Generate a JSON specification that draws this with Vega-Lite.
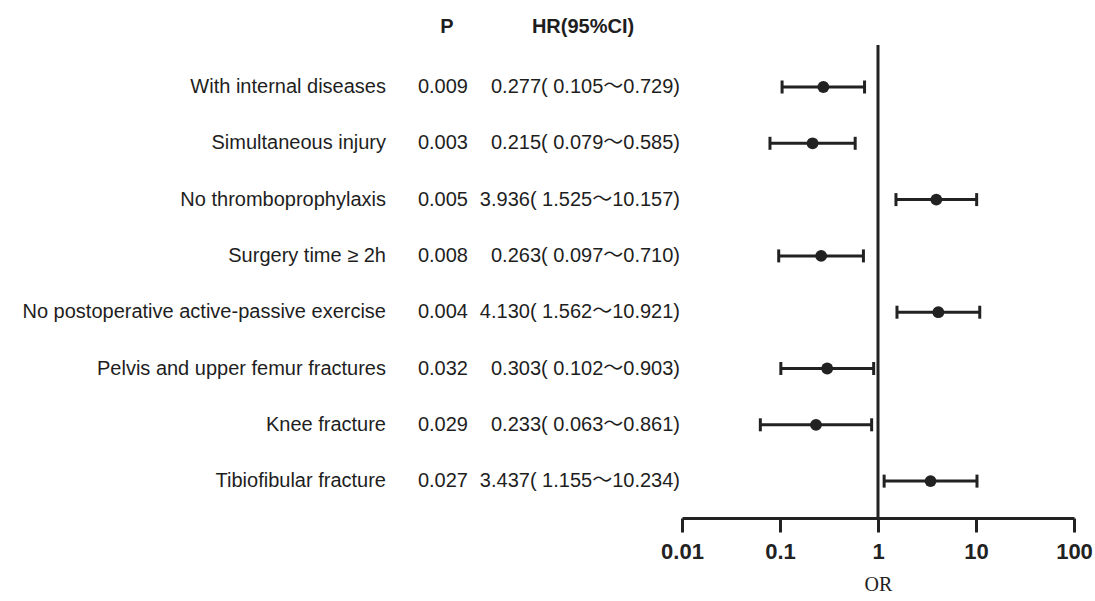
{
  "$schema": "https://vega.github.io/schema/vega-lite/v6.json",
  "padding": 0,
  "autosize": {"type": "pad"},
  "bounds": "flush",
  "spacing": 0,
  "background": "white",
  "config": {"view": {"stroke": null}, "font": "Liberation Sans"},
  "datasets": {
    "rows": [
      {"row": 1, "label": "With internal diseases", "p": "0.009", "hr": "0.277( 0.105～0.729)", "or": 0.277, "lo": 0.105, "hi": 0.729},
      {"row": 2, "label": "Simultaneous injury", "p": "0.003", "hr": "0.215( 0.079～0.585)", "or": 0.215, "lo": 0.079, "hi": 0.585},
      {"row": 3, "label": "No thromboprophylaxis", "p": "0.005", "hr": "3.936( 1.525～10.157)", "or": 3.936, "lo": 1.525, "hi": 10.157},
      {"row": 4, "label": "Surgery time ≥ 2h", "p": "0.008", "hr": "0.263( 0.097～0.710)", "or": 0.263, "lo": 0.097, "hi": 0.710},
      {"row": 5, "label": "No postoperative active-passive exercise", "p": "0.004", "hr": "4.130( 1.562～10.921)", "or": 4.130, "lo": 1.562, "hi": 10.921},
      {"row": 6, "label": "Pelvis and upper femur fractures", "p": "0.032", "hr": "0.303( 0.102～0.903)", "or": 0.303, "lo": 0.102, "hi": 0.903},
      {"row": 7, "label": "Knee fracture", "p": "0.029", "hr": "0.233( 0.063～0.861)", "or": 0.233, "lo": 0.063, "hi": 0.861},
      {"row": 8, "label": "Tibiofibular fracture", "p": "0.027", "hr": "3.437( 1.155～10.234)", "or": 3.437, "lo": 1.155, "hi": 10.234}
    ]
  },
  "hconcat": [
    {
      "width": 682,
      "height": 518,
      "layer": [
        {
          "data": {"name": "rows"},
          "mark": {"type": "text", "align": "right", "baseline": "middle", "fontSize": 20, "color": "#1e1e1e", "font": "Liberation Sans, Noto Sans CJK SC"},
          "encoding": {
            "x": {"datum": 386, "type": "quantitative", "scale": {"domain": [0, 682], "nice": false, "zero": false}, "axis": null},
            "y": {"field": "row", "type": "quantitative", "scale": {"domain": [-0.545, 8.655], "reverse": true, "nice": false, "zero": false}, "axis": null},
            "text": {"field": "label"}
          }
        },
        {
          "data": {"name": "rows"},
          "mark": {"type": "text", "align": "right", "baseline": "middle", "fontSize": 20, "color": "#1e1e1e", "font": "Liberation Sans, Noto Sans CJK SC"},
          "encoding": {
            "x": {"datum": 468, "type": "quantitative"},
            "y": {"field": "row", "type": "quantitative"},
            "text": {"field": "p"}
          }
        },
        {
          "data": {"name": "rows"},
          "mark": {"type": "text", "align": "right", "baseline": "middle", "fontSize": 20, "color": "#1e1e1e", "font": "Liberation Sans, Noto Sans CJK SC"},
          "encoding": {
            "x": {"datum": 680, "type": "quantitative"},
            "y": {"field": "row", "type": "quantitative"},
            "text": {"field": "hr"}
          }
        },
        {
          "data": {"values": [{"title": "P", "row": 0}]},
          "mark": {"type": "text", "align": "center", "baseline": "middle", "fontSize": 20, "fontWeight": "bold", "color": "#1e1e1e", "dy": -4},
          "encoding": {
            "x": {"datum": 447, "type": "quantitative"},
            "y": {"field": "row", "type": "quantitative"},
            "text": {"field": "title"}
          }
        },
        {
          "data": {"values": [{"title": "HR(95%CI)", "row": 0}]},
          "mark": {"type": "text", "align": "center", "baseline": "middle", "fontSize": 20, "fontWeight": "bold", "color": "#1e1e1e", "dy": -4},
          "encoding": {
            "x": {"datum": 583, "type": "quantitative"},
            "y": {"field": "row", "type": "quantitative"},
            "text": {"field": "title"}
          }
        }
      ]
    },
    {
      "width": 392,
      "height": 518,
      "layer": [
        {
          "data": {"name": "rows"},
          "mark": {"type": "rule", "strokeWidth": 3, "color": "#222"},
          "encoding": {
            "x": {"field": "lo", "type": "quantitative", "scale": {"type": "log", "domain": [0.01, 100], "nice": false},
              "axis": {"values": [0.01, 0.1, 1, 10, 100], "labelExpr": "'' + datum.value", "grid": false,
                "domainWidth": 3, "domainColor": "#222", "tickWidth": 3, "tickColor": "#222", "tickSize": 14,
                "labelFontSize": 22, "labelFontWeight": "bold", "labelColor": "#222", "labelPadding": 9, "labelFont": "Liberation Sans",
                "labelFlush": false, "labelOverlap": false,
                "title": "OR", "titleFont": "Liberation Serif", "titleFontSize": 20, "titleFontWeight": "normal", "titleColor": "#222", "titlePadding": 12}},
            "x2": {"field": "hi"},
            "y": {"field": "row", "type": "quantitative", "scale": {"domain": [-0.545, 8.655], "reverse": true, "nice": false, "zero": false}, "axis": null}
          }
        },
        {
          "data": {"values": [{}]},
          "mark": {"type": "rule", "strokeWidth": 3, "color": "#222"},
          "encoding": {
            "x": {"datum": 1, "type": "quantitative"},
            "y": {"datum": 0.254, "type": "quantitative"},
            "y2": {"datum": 8.655}
          }
        },
        {
          "data": {"name": "rows"},
          "mark": {"type": "tick", "orient": "vertical", "size": 13, "thickness": 3, "color": "#222", "opacity": 1},
          "encoding": {
            "x": {"field": "lo", "type": "quantitative"},
            "y": {"field": "row", "type": "quantitative"}
          }
        },
        {
          "data": {"name": "rows"},
          "mark": {"type": "tick", "orient": "vertical", "size": 13, "thickness": 3, "color": "#222", "opacity": 1},
          "encoding": {
            "x": {"field": "hi", "type": "quantitative"},
            "y": {"field": "row", "type": "quantitative"}
          }
        },
        {
          "data": {"name": "rows"},
          "mark": {"type": "point", "shape": "circle", "filled": true, "size": 140, "color": "#222", "opacity": 1},
          "encoding": {
            "x": {"field": "or", "type": "quantitative"},
            "y": {"field": "row", "type": "quantitative"}
          }
        }
      ]
    }
  ]
}
